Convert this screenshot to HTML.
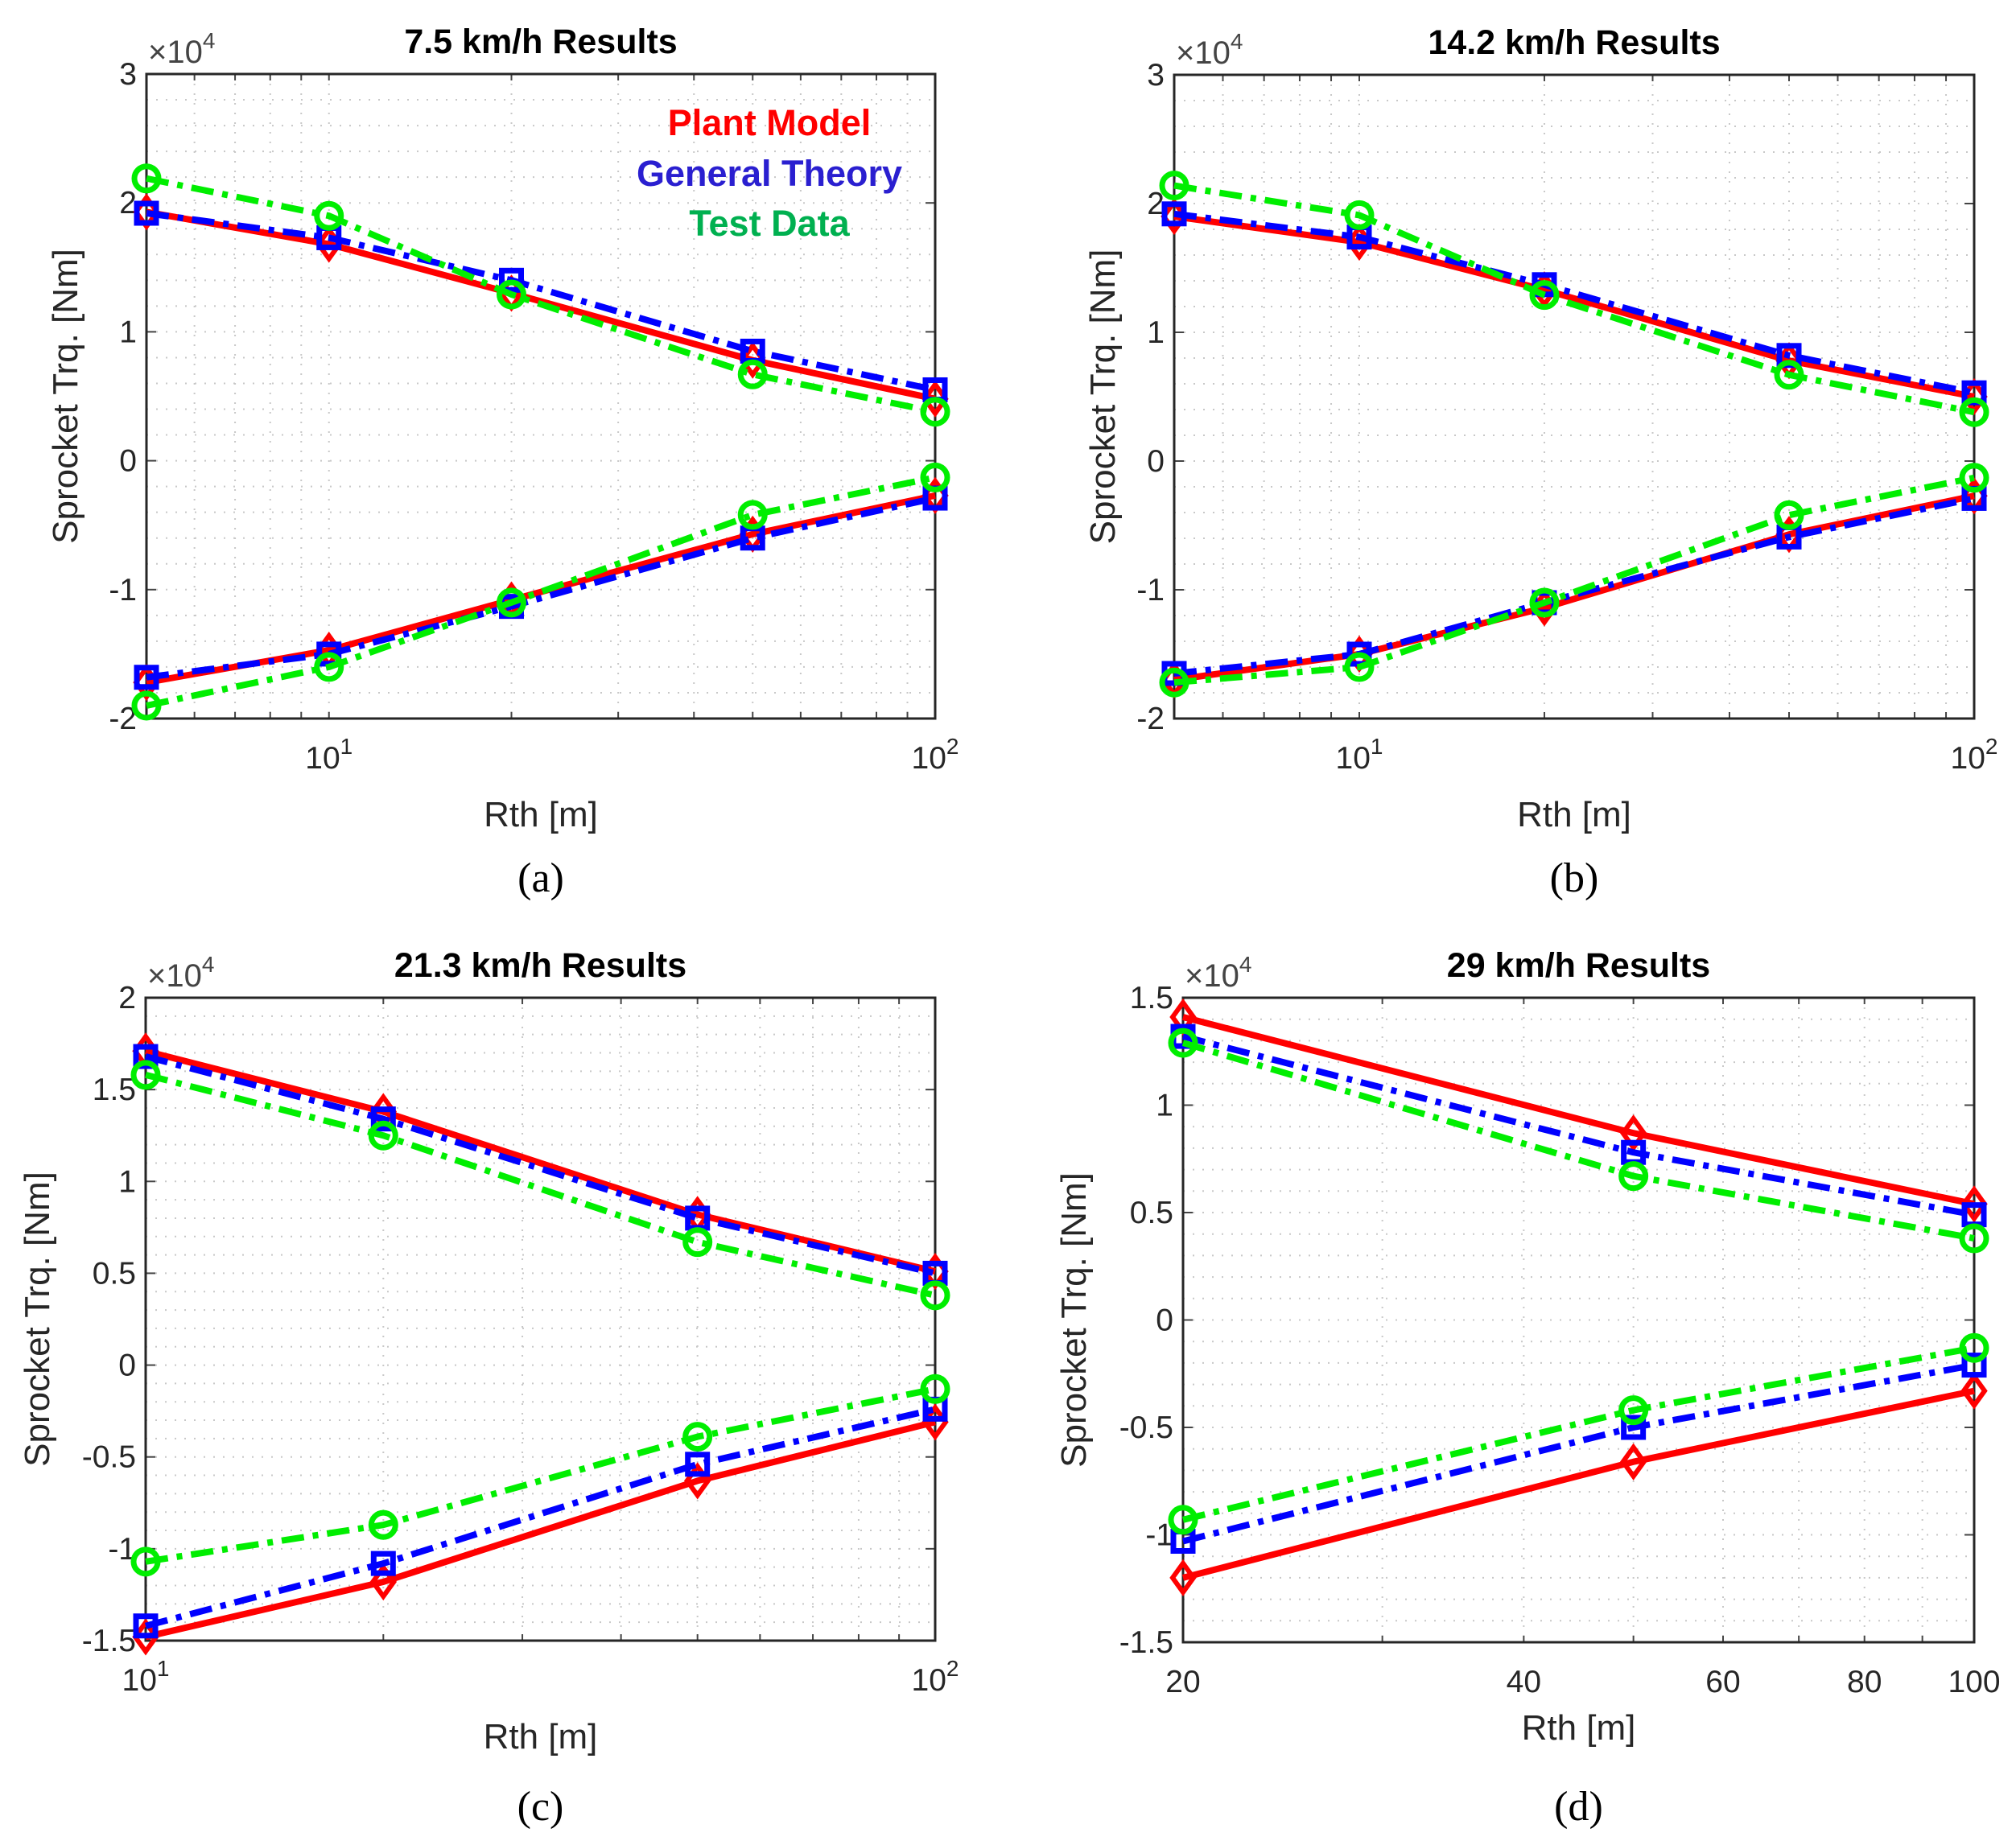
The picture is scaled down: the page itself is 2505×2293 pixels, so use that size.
<!DOCTYPE html>
<html><head><meta charset="utf-8"><style>
html,body{margin:0;padding:0;background:#fff;}
svg{display:block;font-family:"Liberation Sans",Arial,sans-serif;}
</style></head><body>
<svg id="fig" width="2505" height="2293" viewBox="0 0 2505 2293" xmlns="http://www.w3.org/2000/svg"></svg>
<script>
const xA = [5,10,20,50,100];
const xC = [10,20,50,100];
const xD = [20,50,100];
const aPlantTop = [1.93,1.68,1.30,0.78,0.48];
const aPlantBot = [-1.72,-1.47,-1.08,-0.57,-0.27];
const aGenTop = [1.92,1.73,1.40,0.85,0.55];
const aGenBot = [-1.68,-1.50,-1.13,-0.60,-0.29];
const aTestTop = [2.19,1.90,1.29,0.67,0.38];
const aTestBot = [-1.90,-1.60,-1.10,-0.42,-0.13];
const bPlantTop = [1.90,1.70,1.33,0.78,0.50];
const bPlantBot = [-1.70,-1.50,-1.14,-0.57,-0.27];
const bGenTop = [1.92,1.74,1.37,0.82,0.53];
const bGenBot = [-1.65,-1.50,-1.10,-0.59,-0.29];
const bTestTop = [2.14,1.91,1.29,0.67,0.38];
const bTestBot = [-1.72,-1.60,-1.10,-0.42,-0.13];
const cPlantTop = [1.71,1.38,0.82,0.51];
const cPlantBot = [-1.48,-1.18,-0.63,-0.31];
const cGenTop = [1.68,1.34,0.80,0.50];
const cGenBot = [-1.42,-1.08,-0.54,-0.24];
const cTestTop = [1.58,1.25,0.67,0.38];
const cTestBot = [-1.07,-0.87,-0.39,-0.13];
const dPlantTop = [1.41,0.87,0.54];
const dPlantBot = [-1.20,-0.66,-0.33];
const dGenTop = [1.32,0.78,0.49];
const dGenBot = [-1.03,-0.50,-0.21];
const dTestTop = [1.29,0.67,0.38];
const dTestBot = [-0.93,-0.42,-0.13];
const yTicksAB = [3,2,1,0,-1,-2];
const yTicksCD = [2,1.5,1,0.5,0,-0.5,-1,-1.5];
const yTicksD = [1.5,1,0.5,0,-0.5,-1,-1.5];
const xTicksD = [20,40,60,80,100];

const NS='http://www.w3.org/2000/svg';
const svg=document.getElementById('fig');
function mk(tag,attrs,parent){const e=document.createElementNS(NS,tag);for(const k in attrs)e.setAttribute(k,attrs[k]);(parent||svg).appendChild(e);return e;}

function panel(p){
  const g=mk('g',{});
  
  
  const lx0=Math.log10(p.xmin),lx1=Math.log10(p.xmax);
  const X=v=>p.L+(Math.log10(v)-lx0)/(lx1-lx0)*(p.R-p.L);
  const Y=v=>p.T+(p.ymax-v)/(p.ymax-p.ymin)*(p.B-p.T);
  for(let d=Math.floor(lx0);d<Math.ceil(lx1);d++){for(let m=1;m<10;m++){const v=m*Math.pow(10,d);if(v<p.xmin||v>p.xmax)continue;
    const gl=mk('line',{x1:X(v),x2:X(v),y1:p.T,y2:p.B,stroke:'#c8c8c8','stroke-width':2,'stroke-dasharray':'2 10'},g);
    
    mk('line',{x1:X(v),x2:X(v),y1:p.B,y2:p.B-8,stroke:'#444','stroke-width':2},g);
    mk('line',{x1:X(v),x2:X(v),y1:p.T,y2:p.T+8,stroke:'#444','stroke-width':2},g);}}
  const nm=Math.round((p.ymax-p.ymin)/p.minor);
  for(let i=0;i<=nm;i++){const v=p.ymin+i*p.minor;
    const gl=mk('line',{x1:p.L,x2:p.R,y1:Y(v),y2:Y(v),stroke:'#c8c8c8','stroke-width':2,'stroke-dasharray':'2 10'},g);
    }
  p.yticks.forEach(v=>{
    mk('line',{x1:p.L,x2:p.L+12,y1:Y(v),y2:Y(v),stroke:'#444','stroke-width':2},g);
    mk('line',{x1:p.R,x2:p.R-12,y1:Y(v),y2:Y(v),stroke:'#444','stroke-width':2},g);
    const t=mk('text',{x:p.L-12,y:Y(v)+13,'text-anchor':'end','font-size':39,fill:'#262626'},g);t.textContent=String(v);
    
  });
  p.xlabels.forEach(v=>{
    const t=mk('text',{x:X(v),y:p.B+62,'text-anchor':'middle','font-size':39,fill:'#262626'},g);
    if(p.pow){t.textContent='10';const s=mk('tspan',{dy:-18,'font-size':28},t);s.textContent=String(Math.round(Math.log10(v)));}
    else t.textContent=String(v);
    
  });
  const box=mk('rect',{x:p.L,y:p.T,width:p.R-p.L,height:p.B-p.T,fill:'none',stroke:'#262626','stroke-width':3},g);
  
  const ser=[
    {c:'#ff0000',dash:'',m:'diamond',ys:[p.pt,p.pb],n:'plant-model'},
    {c:'#0000ff',dash:'28 11 7 11',m:'square',ys:[p.gt,p.gb],n:'general-theory'},
    {c:'#00ee00',dash:'28 11 7 11',m:'circle',ys:[p.tt,p.tb],n:'test-data'}];
  ser.forEach(s=>{s.ys.forEach((arr,k)=>{
    const pts=p.x.map((xv,i)=>X(xv)+','+Y(arr[i])).join(' ');
    const l=mk('polyline',{points:pts,fill:'none',stroke:s.c,'stroke-width':8,'stroke-dasharray':s.dash,'stroke-linejoin':'round'},g);
    
    p.x.forEach((xv,i)=>{const cx=X(xv),cy=Y(arr[i]);let e;
      if(s.m==='diamond')e=mk('polygon',{points:`${cx},${cy-18} ${cx+13},${cy} ${cx},${cy+18} ${cx-13},${cy}`,fill:'none',stroke:s.c,'stroke-width':6},g);
      else if(s.m==='square')e=mk('rect',{x:cx-12,y:cy-12,width:24,height:24,fill:'none',stroke:s.c,'stroke-width':7},g);
      else e=mk('circle',{cx:cx,cy:cy,r:15,fill:'none',stroke:s.c,'stroke-width':7},g);
      });
  });});
  const ti=mk('text',{x:(p.L+p.R)/2,y:p.T-26,'text-anchor':'middle','font-size':43,'font-weight':'bold',fill:'#000'},g);ti.textContent=p.title;
  
  const ex=mk('text',{x:p.L+2,y:p.T-14,'font-size':40,fill:'#444'},g);ex.textContent='×10';const es=mk('tspan',{dy:-18,'font-size':28},ex);es.textContent='4';
  
  const yl=mk('text',{x:0,y:0,'text-anchor':'middle','font-size':44,fill:'#262626',transform:`translate(${p.ylx},${(p.T+p.B)/2}) rotate(-90)`},g);yl.textContent='Sprocket Trq. [Nm]';
  
  const xl=mk('text',{x:(p.L+p.R)/2,y:p.xly,'text-anchor':'middle','font-size':44,fill:'#262626'},g);xl.textContent='Rth [m]';
  
  const cap=mk('text',{x:(p.L+p.R)/2,y:p.capy,'text-anchor':'middle','font-size':52,fill:'#000','font-family':'"Liberation Serif",serif'},g);cap.textContent='('+p.id+')';
  
}
panel({id:'a',title:'7.5 km/h Results',L:182,R:1162,T:92,B:893,xmin:5,xmax:100,ymin:-2,ymax:3,minor:0.2,yticks:yTicksAB,xlabels:[10,100],pow:true,x:xA,pt:aPlantTop,pb:aPlantBot,gt:aGenTop,gb:aGenBot,tt:aTestTop,tb:aTestBot,ylx:96,xly:1027,capy:1108});
panel({id:'b',title:'14.2 km/h Results',L:1459,R:2453,T:93,B:893,xmin:5,xmax:100,ymin:-2,ymax:3,minor:0.2,yticks:yTicksAB,xlabels:[10,100],pow:true,x:xA,pt:bPlantTop,pb:bPlantBot,gt:bGenTop,gb:bGenBot,tt:bTestTop,tb:bTestBot,ylx:1385,xly:1027,capy:1108});
panel({id:'c',title:'21.3 km/h Results',L:181,R:1162,T:1240,B:2039,xmin:10,xmax:100,ymin:-1.5,ymax:2,minor:0.1,yticks:yTicksCD,xlabels:[10,100],pow:true,x:xC,pt:cPlantTop,pb:cPlantBot,gt:cGenTop,gb:cGenBot,tt:cTestTop,tb:cTestBot,ylx:61,xly:2173,capy:2262});
panel({id:'d',title:'29 km/h Results',L:1470,R:2453,T:1240,B:2041,xmin:20,xmax:100,ymin:-1.5,ymax:1.5,minor:0.1,yticks:yTicksD,xlabels:xTicksD,pow:false,x:xD,pt:dPlantTop,pb:dPlantBot,gt:dGenTop,gb:dGenBot,tt:dTestTop,tb:dTestBot,ylx:1349,xly:2162,capy:2262});
const leg=[['Plant Model','#ff0000',168],['General Theory','#2a1fd0',231],['Test Data','#00b050',293]];
leg.forEach(l=>{const t=mk('text',{x:956,y:l[2],'text-anchor':'middle','font-size':45,'font-weight':'bold',fill:l[1]});t.textContent=l[0];
  });
</script>
</body></html>
